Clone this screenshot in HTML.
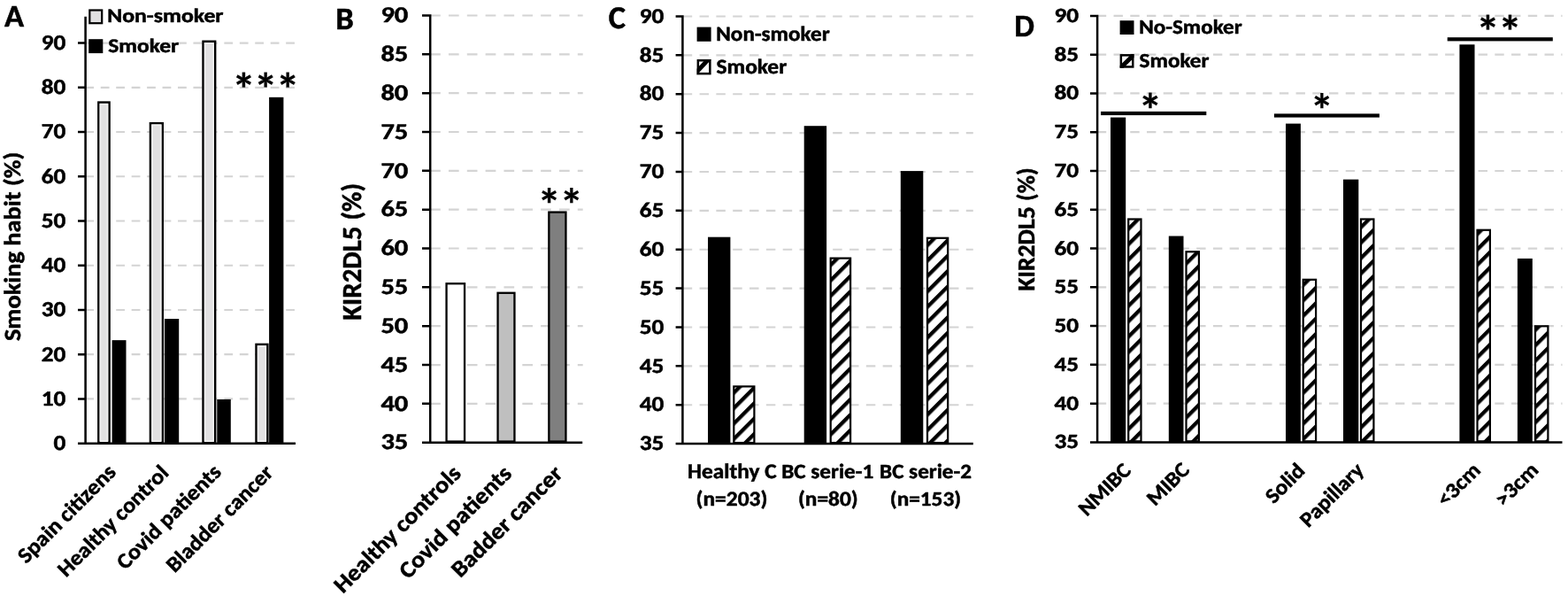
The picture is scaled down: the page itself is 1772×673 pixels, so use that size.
<!DOCTYPE html>
<html><head><meta charset="utf-8"><title>Figure</title>
<style>html,body{margin:0;padding:0;background:#fff;}svg{display:block;}</style>
</head><body>
<svg width="1772" height="673" viewBox="0 0 1772 673">
<defs><pattern id="hatch" patternUnits="userSpaceOnUse" width="12.3" height="12.3" patternTransform="rotate(45)"><rect width="12.3" height="12.3" fill="#fff"/><rect x="0" y="0" width="4.3" height="12.3" fill="#000"/></pattern></defs>
<rect width="1772" height="673" fill="#fff"/>
<path d="M96.3 450.46H333 M96.3 400.22H333 M96.3 349.98H333 M96.3 299.74H333 M96.3 249.5H333 M96.3 199.26H333 M96.3 149.02H333 M96.3 98.78H333 M96.3 48.54H333" stroke="#d4d4d4" stroke-width="2.2" stroke-dasharray="9.8 7.65" fill="none"/>
<path d="M486.1 455.87H658.7 M486.1 412.03H658.7 M486.1 368.19H658.7 M486.1 324.36H658.7 M486.1 280.52H658.7 M486.1 236.69H658.7 M486.1 192.86H658.7 M486.1 149.02H658.7 M486.1 105.19H658.7 M486.1 61.35H658.7 M486.1 17.52H658.7" stroke="#d4d4d4" stroke-width="2.2" stroke-dasharray="11.7 9.14" fill="none"/>
<path d="M771.7 457.23H1099.8 M771.7 413.35H1099.8 M771.7 369.48H1099.8 M771.7 325.6H1099.8 M771.7 281.73H1099.8 M771.7 237.85H1099.8 M771.7 193.98H1099.8 M771.7 150.1H1099.8 M771.7 106.23H1099.8 M771.7 62.35H1099.8 M771.7 18.48H1099.8" stroke="#d4d4d4" stroke-width="2.2" stroke-dasharray="10.5 8.33" fill="none"/>
<path d="M1239.8 455.63H1765.5 M1239.8 411.85H1765.5 M1239.8 368.08H1765.5 M1239.8 324.31H1765.5 M1239.8 280.54H1765.5 M1239.8 236.76H1765.5 M1239.8 192.99H1765.5 M1239.8 149.22H1765.5 M1239.8 105.45H1765.5 M1239.8 61.67H1765.5 M1239.8 17.9H1765.5" stroke="#d4d4d4" stroke-width="2.2" stroke-dasharray="10.4 8.33" fill="none"/>
<rect x="111.35" y="115.6" width="12.2" height="383.85" fill="#e1e0e1" stroke="#000" stroke-width="2.5"/>
<rect x="113.4" y="117.65" width="8.1" height="380.55" fill="none" stroke="#f0f0f0" stroke-width="1.6"/>
<rect x="126.6" y="384.14" width="15.9" height="116.56" fill="#000"/>
<rect x="169.95" y="139.22" width="13.8" height="360.23" fill="#e1e0e1" stroke="#000" stroke-width="2.5"/>
<rect x="172" y="141.27" width="9.7" height="356.93" fill="none" stroke="#f0f0f0" stroke-width="1.6"/>
<rect x="185.9" y="360.03" width="16.3" height="140.67" fill="#000"/>
<rect x="229.55" y="46.78" width="13.6" height="452.67" fill="#e1e0e1" stroke="#000" stroke-width="2.5"/>
<rect x="231.6" y="48.83" width="9.5" height="449.37" fill="none" stroke="#f0f0f0" stroke-width="1.6"/>
<rect x="245.3" y="450.96" width="15.5" height="49.74" fill="#000"/>
<rect x="289.55" y="388.91" width="12.8" height="110.54" fill="#e1e0e1" stroke="#000" stroke-width="2.5"/>
<rect x="291.6" y="390.96" width="8.7" height="107.24" fill="none" stroke="#f0f0f0" stroke-width="1.6"/>
<rect x="304.1" y="109.83" width="16.3" height="390.87" fill="#000"/>
<rect x="504.55" y="320.25" width="20.5" height="178.3" fill="#ffffff" stroke="#000" stroke-width="2.3"/>
<rect x="562.55" y="330.77" width="18.9" height="167.78" fill="#bfbfbf" stroke="#000" stroke-width="2.3"/>
<rect x="620.35" y="239.59" width="19.1" height="258.96" fill="#7f7f7f" stroke="#000" stroke-width="2.3"/>
<rect x="800" y="267.69" width="25.4" height="233.42" fill="#000"/>
<rect x="829.3" y="436.39" width="23.1" height="63.61" fill="url(#hatch)" stroke="#000" stroke-width="2.2"/>
<rect x="908.7" y="142.2" width="25.4" height="358.9" fill="#000"/>
<rect x="938.7" y="291.6" width="22.4" height="208.4" fill="url(#hatch)" stroke="#000" stroke-width="2.2"/>
<rect x="1017.8" y="193.1" width="25.5" height="308" fill="#000"/>
<rect x="1048" y="268.79" width="23.2" height="231.22" fill="url(#hatch)" stroke="#000" stroke-width="2.2"/>
<rect x="1255" y="132.59" width="17.2" height="366.81" fill="#000"/>
<rect x="1275.2" y="247.49" width="14.3" height="250.81" fill="url(#hatch)" stroke="#000" stroke-width="2.2"/>
<rect x="1320.8" y="266.53" width="16.7" height="232.87" fill="#000"/>
<rect x="1340.5" y="284.26" width="14.4" height="214.04" fill="url(#hatch)" stroke="#000" stroke-width="2.2"/>
<rect x="1453" y="139.59" width="16.9" height="359.81" fill="#000"/>
<rect x="1472.7" y="315.78" width="14.4" height="182.52" fill="url(#hatch)" stroke="#000" stroke-width="2.2"/>
<rect x="1518" y="202.62" width="17.3" height="296.78" fill="#000"/>
<rect x="1538" y="247.49" width="14.4" height="250.81" fill="url(#hatch)" stroke="#000" stroke-width="2.2"/>
<rect x="1649.4" y="50.29" width="17.1" height="449.11" fill="#000"/>
<rect x="1669.5" y="259.75" width="14.4" height="238.55" fill="url(#hatch)" stroke="#000" stroke-width="2.2"/>
<rect x="1714.9" y="291.92" width="16.9" height="207.48" fill="#000"/>
<rect x="1735" y="368.31" width="14.4" height="129.99" fill="url(#hatch)" stroke="#000" stroke-width="2.2"/>
<path d="M96.6 18.7V500.7 M88 500.7H334 M88 450.46H96.6 M88 400.22H96.6 M88 349.98H96.6 M88 299.74H96.6 M88 249.5H96.6 M88 199.26H96.6 M88 149.02H96.6 M88 98.78H96.6 M88 48.54H96.6" stroke="#000" stroke-width="2.5" fill="none"/>
<path d="M486.2 16.3V499.7 M477 499.7H658.2 M477 455.87H486.2 M477 412.03H486.2 M477 368.19H486.2 M477 324.36H486.2 M477 280.52H486.2 M477 236.69H486.2 M477 192.86H486.2 M477 149.02H486.2 M477 105.19H486.2 M477 61.35H486.2 M477 17.52H486.2" stroke="#000" stroke-width="2.5" fill="none"/>
<path d="M771.4 17.3V501.1 M763.6 501.1H1099.8 M763.6 457.23H771.4 M763.6 413.35H771.4 M763.6 369.48H771.4 M763.6 325.6H771.4 M763.6 281.73H771.4 M763.6 237.85H771.4 M763.6 193.98H771.4 M763.6 150.1H771.4 M763.6 106.23H771.4 M763.6 62.35H771.4 M763.6 18.48H771.4" stroke="#000" stroke-width="2.5" fill="none"/>
<path d="M1240.1 16.8V499.4 M1232 499.4H1765.5 M1232 455.63H1240.1 M1232 411.85H1240.1 M1232 368.08H1240.1 M1232 324.31H1240.1 M1232 280.54H1240.1 M1232 236.76H1240.1 M1232 192.99H1240.1 M1232 149.22H1240.1 M1232 105.45H1240.1 M1232 61.67H1240.1 M1232 17.9H1240.1" stroke="#000" stroke-width="2.5" fill="none"/>
<rect x="101.3" y="11.5" width="13.9" height="14.7" fill="#e1e0e1" stroke="#000" stroke-width="2.2"/>
<rect x="100.2" y="44.2" width="16.1" height="15.9" fill="#000"/>
<rect x="787.6" y="30.6" width="16" height="16.2" fill="#000"/>
<rect x="787.6" y="67" width="16" height="17.4" fill="#fff"/>
<clipPath id="lc787"><rect x="787.6" y="67" width="16" height="17.4"/></clipPath>
<path clip-path="url(#lc787)" d="M784 84.8L804 63.4" stroke="#000" stroke-width="5"/>
<rect x="788.85" y="68.25" width="13.5" height="14.9" fill="none" stroke="#000" stroke-width="2.5"/>
<rect x="1265.6" y="23.2" width="15.9" height="15.8" fill="#000"/>
<rect x="1265.6" y="61.1" width="15.9" height="15.6" fill="#fff"/>
<clipPath id="lc1265"><rect x="1265.6" y="61.1" width="15.9" height="15.6"/></clipPath>
<path clip-path="url(#lc1265)" d="M1263.9 79L1283.8 59.4" stroke="#000" stroke-width="5"/>
<rect x="1266.85" y="62.35" width="13.4" height="13.1" fill="none" stroke="#000" stroke-width="2.5"/>
<rect x="1244" y="125.9" width="119.3" height="4.2" fill="#000"/>
<rect x="1439.9" y="128.4" width="119" height="4.2" fill="#000"/>
<rect x="1635.7" y="42.2" width="119.1" height="4.2" fill="#000"/>
<g font-family="Carlito, 'Liberation Sans', sans-serif" font-weight="bold" fill="#000" stroke="#000" stroke-width="0.5" stroke-linejoin="round" text-rendering="geometricPrecision">
<text transform="translate(5.08 30.44) scale(1.0228 1)" font-size="35.66" textLength="21.61" lengthAdjust="spacingAndGlyphs">A</text>
<text transform="translate(379.27 32.64) scale(1.0252 1)" font-size="35.66" textLength="19.99" lengthAdjust="spacingAndGlyphs">B</text>
<text transform="translate(687.73 32.46)" font-size="36.36" textLength="19.25" lengthAdjust="spacingAndGlyphs">C</text>
<text transform="translate(1146.18 40.94) scale(1.0129 1)" font-size="35.5" textLength="22.38" lengthAdjust="spacingAndGlyphs">D</text>
<text transform="translate(121.24 25.39) scale(1.1557 1)" font-size="22.27" textLength="113.59" lengthAdjust="spacingAndGlyphs">Non-smoker</text>
<text transform="translate(122.28 59.19) scale(1.1433 1)" font-size="22.27" textLength="69.82" lengthAdjust="spacingAndGlyphs">Smoker</text>
<text transform="translate(809.28 46.19) scale(1.0685 1)" font-size="23.55" textLength="120.10" lengthAdjust="spacingAndGlyphs">Non-smoker</text>
<text transform="translate(809.48 82.69) scale(1.0799 1)" font-size="23.55" textLength="73.82" lengthAdjust="spacingAndGlyphs">Smoker</text>
<text transform="translate(1287.18 38.39) scale(1.0927 1)" font-size="22.98" textLength="106.57" lengthAdjust="spacingAndGlyphs">No-Smoker</text>
<text transform="translate(1287.58 76.09) scale(1.0939 1)" font-size="22.98" textLength="72.05" lengthAdjust="spacingAndGlyphs">Smoker</text>
<text transform="translate(23.21 385.09) rotate(-90) scale(1.0714 1)" font-size="26.48" textLength="199.25" lengthAdjust="spacingAndGlyphs">Smoking habit (%)</text>
<text transform="translate(408.49 361.82) rotate(-90) scale(0.9993 1)" font-size="30.9" textLength="155.16" lengthAdjust="spacingAndGlyphs">KIR2DL5 (%)</text>
<text transform="translate(1168.77 328.57) rotate(-90) scale(1.0021 1)" font-size="27.64" textLength="138.80" lengthAdjust="spacingAndGlyphs">KIR2DL5 (%)</text>
<text transform="translate(777.09 540.3) scale(1.0620 1)" font-size="23.84" textLength="94.58" lengthAdjust="spacingAndGlyphs">Healthy C</text>
<text transform="translate(883.18 539.89) scale(1.0814 1)" font-size="23.26" textLength="96.21" lengthAdjust="spacingAndGlyphs">BC serie-1</text>
<text transform="translate(994.08 539.89) scale(1.0792 1)" font-size="23.26" textLength="96.21" lengthAdjust="spacingAndGlyphs">BC serie-2</text>
<text transform="translate(786.46 571.37) scale(1.0797 1)" font-size="23.6" textLength="74.99" lengthAdjust="spacingAndGlyphs">(n=203)</text>
<text transform="translate(901.97 571.37) scale(1.0741 1)" font-size="23.6" textLength="63.03" lengthAdjust="spacingAndGlyphs">(n=80)</text>
<text transform="translate(1005.77 571.34) scale(1.0921 1)" font-size="23.15" textLength="73.56" lengthAdjust="spacingAndGlyphs">(n=153)</text>
<text transform="translate(29.45 637.32) rotate(-45) scale(1.0656 1)" font-size="24.5" textLength="136.68" lengthAdjust="spacingAndGlyphs">Spain citizens</text>
<text transform="translate(74.8 652.44) rotate(-45) scale(1.0583 1)" font-size="24.5" textLength="156.56" lengthAdjust="spacingAndGlyphs">Healthy control</text>
<text transform="translate(141.44 644.15) rotate(-45) scale(1.0696 1)" font-size="24.5" textLength="145.24" lengthAdjust="spacingAndGlyphs">Covid patients</text>
<text transform="translate(197.62 647.52) rotate(-45) scale(1.0499 1)" font-size="24.5" textLength="151.37" lengthAdjust="spacingAndGlyphs">Bladder cancer</text>
<text transform="translate(387.42 670.95) rotate(-45) scale(1.0807 1)" font-size="26" textLength="176.52" lengthAdjust="spacingAndGlyphs">Healthy controls</text>
<text transform="translate(461.14 654.63) rotate(-45) scale(1.0869 1)" font-size="26" textLength="154.14" lengthAdjust="spacingAndGlyphs">Covid patients</text>
<text transform="translate(520.25 653.36) rotate(-45) scale(1.0733 1)" font-size="26" textLength="154.25" lengthAdjust="spacingAndGlyphs">Badder cancer</text>
<text transform="translate(1228.2 583.67) rotate(-45) scale(1.0436 1)" font-size="24" textLength="69.34" lengthAdjust="spacingAndGlyphs">NMIBC</text>
<text transform="translate(1305.35 572.22) rotate(-45) scale(1.0619 1)" font-size="24" textLength="53.53" lengthAdjust="spacingAndGlyphs">MIBC</text>
<text transform="translate(1439.19 569.7) rotate(-45) scale(1.0654 1)" font-size="24" textLength="48.91" lengthAdjust="spacingAndGlyphs">Solid</text>
<text transform="translate(1478.62 596.41) rotate(-45) scale(1.0463 1)" font-size="24" textLength="86.57" lengthAdjust="spacingAndGlyphs">Papillary</text>
<text transform="translate(1633.33 573.32) rotate(-45) scale(1.0833 1)" font-size="24" textLength="53.69" lengthAdjust="spacingAndGlyphs">&lt;3cm</text>
<text transform="translate(1698.88 573.22) rotate(-45) scale(1.0824 1)" font-size="24" textLength="53.69" lengthAdjust="spacingAndGlyphs">&gt;3cm</text>
<text transform="translate(60.52 508.04) scale(1.1222 1)" font-size="24.24" textLength="12.29" lengthAdjust="spacingAndGlyphs">0</text>
<text transform="translate(46.74 457.8) scale(1.1222 1)" font-size="24.24" textLength="24.57" lengthAdjust="spacingAndGlyphs">10</text>
<text transform="translate(46.74 407.56) scale(1.1222 1)" font-size="24.24" textLength="24.57" lengthAdjust="spacingAndGlyphs">20</text>
<text transform="translate(46.74 357.32) scale(1.1222 1)" font-size="24.24" textLength="24.57" lengthAdjust="spacingAndGlyphs">30</text>
<text transform="translate(46.74 307.08) scale(1.1222 1)" font-size="24.24" textLength="24.57" lengthAdjust="spacingAndGlyphs">40</text>
<text transform="translate(46.74 256.84) scale(1.1222 1)" font-size="24.24" textLength="24.57" lengthAdjust="spacingAndGlyphs">50</text>
<text transform="translate(46.74 206.6) scale(1.1222 1)" font-size="24.24" textLength="24.57" lengthAdjust="spacingAndGlyphs">60</text>
<text transform="translate(46.74 156.36) scale(1.1222 1)" font-size="24.24" textLength="24.57" lengthAdjust="spacingAndGlyphs">70</text>
<text transform="translate(46.74 106.12) scale(1.1222 1)" font-size="24.24" textLength="24.57" lengthAdjust="spacingAndGlyphs">80</text>
<text transform="translate(46.74 55.88) scale(1.1222 1)" font-size="24.24" textLength="24.57" lengthAdjust="spacingAndGlyphs">90</text>
<text transform="translate(430.45 507.49) scale(1.1884 1)" font-size="25.61" textLength="25.96" lengthAdjust="spacingAndGlyphs">35</text>
<text transform="translate(430.45 463.65) scale(1.1884 1)" font-size="25.61" textLength="25.96" lengthAdjust="spacingAndGlyphs">40</text>
<text transform="translate(430.45 419.82) scale(1.1884 1)" font-size="25.61" textLength="25.96" lengthAdjust="spacingAndGlyphs">45</text>
<text transform="translate(430.45 375.98) scale(1.1884 1)" font-size="25.61" textLength="25.96" lengthAdjust="spacingAndGlyphs">50</text>
<text transform="translate(430.45 332.15) scale(1.1884 1)" font-size="25.61" textLength="25.96" lengthAdjust="spacingAndGlyphs">55</text>
<text transform="translate(430.45 288.31) scale(1.1884 1)" font-size="25.61" textLength="25.96" lengthAdjust="spacingAndGlyphs">60</text>
<text transform="translate(430.45 244.48) scale(1.1884 1)" font-size="25.61" textLength="25.96" lengthAdjust="spacingAndGlyphs">65</text>
<text transform="translate(430.45 200.64) scale(1.1884 1)" font-size="25.61" textLength="25.96" lengthAdjust="spacingAndGlyphs">70</text>
<text transform="translate(430.45 156.81) scale(1.1884 1)" font-size="25.61" textLength="25.96" lengthAdjust="spacingAndGlyphs">75</text>
<text transform="translate(430.45 112.97) scale(1.1884 1)" font-size="25.61" textLength="25.96" lengthAdjust="spacingAndGlyphs">80</text>
<text transform="translate(430.45 69.14) scale(1.1884 1)" font-size="25.61" textLength="25.96" lengthAdjust="spacingAndGlyphs">85</text>
<text transform="translate(430.45 25.3) scale(1.1884 1)" font-size="25.61" textLength="25.96" lengthAdjust="spacingAndGlyphs">90</text>
<text transform="translate(722.64 508.34) scale(1.1364 1)" font-size="23.94" textLength="24.27" lengthAdjust="spacingAndGlyphs">35</text>
<text transform="translate(722.64 464.47) scale(1.1364 1)" font-size="23.94" textLength="24.27" lengthAdjust="spacingAndGlyphs">40</text>
<text transform="translate(722.64 420.59) scale(1.1364 1)" font-size="23.94" textLength="24.27" lengthAdjust="spacingAndGlyphs">45</text>
<text transform="translate(722.64 376.72) scale(1.1364 1)" font-size="23.94" textLength="24.27" lengthAdjust="spacingAndGlyphs">50</text>
<text transform="translate(722.64 332.84) scale(1.1364 1)" font-size="23.94" textLength="24.27" lengthAdjust="spacingAndGlyphs">55</text>
<text transform="translate(722.64 288.97) scale(1.1364 1)" font-size="23.94" textLength="24.27" lengthAdjust="spacingAndGlyphs">60</text>
<text transform="translate(722.64 245.09) scale(1.1364 1)" font-size="23.94" textLength="24.27" lengthAdjust="spacingAndGlyphs">65</text>
<text transform="translate(722.64 201.22) scale(1.1364 1)" font-size="23.94" textLength="24.27" lengthAdjust="spacingAndGlyphs">70</text>
<text transform="translate(722.64 157.34) scale(1.1364 1)" font-size="23.94" textLength="24.27" lengthAdjust="spacingAndGlyphs">75</text>
<text transform="translate(722.64 113.47) scale(1.1364 1)" font-size="23.94" textLength="24.27" lengthAdjust="spacingAndGlyphs">80</text>
<text transform="translate(722.64 69.59) scale(1.1364 1)" font-size="23.94" textLength="24.27" lengthAdjust="spacingAndGlyphs">85</text>
<text transform="translate(722.64 25.72) scale(1.1364 1)" font-size="23.94" textLength="24.27" lengthAdjust="spacingAndGlyphs">90</text>
<text transform="translate(1191.44 506.42) scale(1.1697 1)" font-size="23.26" textLength="23.58" lengthAdjust="spacingAndGlyphs">35</text>
<text transform="translate(1191.44 462.64) scale(1.1697 1)" font-size="23.26" textLength="23.58" lengthAdjust="spacingAndGlyphs">40</text>
<text transform="translate(1191.44 418.87) scale(1.1697 1)" font-size="23.26" textLength="23.58" lengthAdjust="spacingAndGlyphs">45</text>
<text transform="translate(1191.44 375.1) scale(1.1697 1)" font-size="23.26" textLength="23.58" lengthAdjust="spacingAndGlyphs">50</text>
<text transform="translate(1191.44 331.33) scale(1.1697 1)" font-size="23.26" textLength="23.58" lengthAdjust="spacingAndGlyphs">55</text>
<text transform="translate(1191.44 287.55) scale(1.1697 1)" font-size="23.26" textLength="23.58" lengthAdjust="spacingAndGlyphs">60</text>
<text transform="translate(1191.44 243.78) scale(1.1697 1)" font-size="23.26" textLength="23.58" lengthAdjust="spacingAndGlyphs">65</text>
<text transform="translate(1191.44 200.01) scale(1.1697 1)" font-size="23.26" textLength="23.58" lengthAdjust="spacingAndGlyphs">70</text>
<text transform="translate(1191.44 156.24) scale(1.1697 1)" font-size="23.26" textLength="23.58" lengthAdjust="spacingAndGlyphs">75</text>
<text transform="translate(1191.44 112.46) scale(1.1697 1)" font-size="23.26" textLength="23.58" lengthAdjust="spacingAndGlyphs">80</text>
<text transform="translate(1191.44 68.69) scale(1.1697 1)" font-size="23.26" textLength="23.58" lengthAdjust="spacingAndGlyphs">85</text>
<text transform="translate(1191.44 24.92) scale(1.1697 1)" font-size="23.26" textLength="23.58" lengthAdjust="spacingAndGlyphs">90</text>
<text transform="translate(262.07 119.09) scale(1.0369 1)" font-size="52.19" x="0 23.92 47.84" stroke-width="0.2">***</text>
<text transform="translate(607.32 249.67) scale(1.0102 1)" font-size="53.12" x="0 24.95" stroke-width="0.2">**</text>
<text transform="translate(1286.19 143.39) scale(1.0292 1)" font-size="53.44" x="0" stroke-width="0.2">*</text>
<text transform="translate(1480.42 142.67) scale(1.0102 1)" font-size="53.12" x="0" stroke-width="0.2">*</text>
<text transform="translate(1667.97 53.89) scale(1.0379 1)" font-size="52.19" x="0 24.18" stroke-width="0.2">**</text>
</g>
</svg>
</body></html>
